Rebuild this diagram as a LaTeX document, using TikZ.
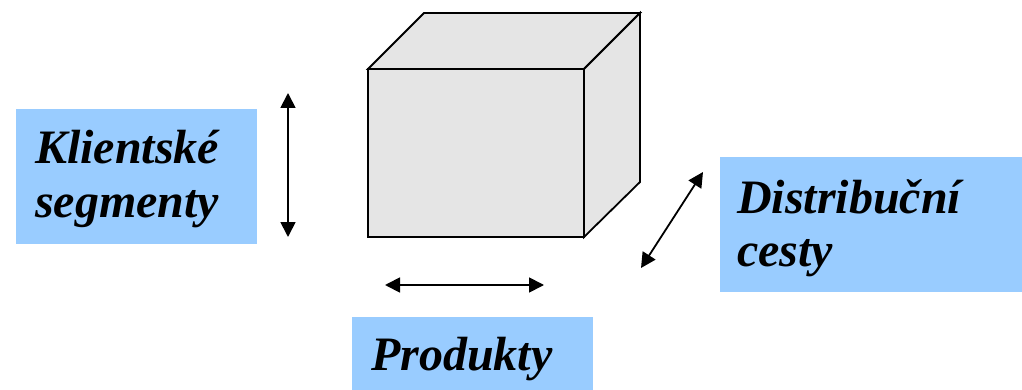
\documentclass[tikz,border=0pt]{standalone}
\usepackage{fontspec}
\setmainfont{Liberation Serif}
\usetikzlibrary{arrows.meta}
\definecolor{boxblue}{HTML}{99CCFF}
\definecolor{cubegray}{HTML}{E5E5E5}
\tikzset{
  bluebox/.style={fill=boxblue, draw=none, inner sep=0pt, anchor=north west},
  lbl/.style={font=\fontsize{48}{54}\selectfont\bfseries\itshape, inner sep=0pt, anchor=base west},
  dimarrow/.style={line width=1.8pt, {Triangle[length=15pt,width=15pt]}-{Triangle[length=15pt,width=15pt]}},
  cubeline/.style={line width=1.8pt, line join=miter, fill=cubegray, draw=black}
}
\begin{document}
\begin{tikzpicture}[x=1pt,y=-1pt]
\useasboundingbox (0,0) rectangle (1022,390);
% boxes
\node[bluebox, minimum width=241pt, minimum height=135pt] (kbox) at (16,109) {};
\node[bluebox, minimum width=302pt, minimum height=135pt] (dbox) at (720,157) {};
\node[bluebox, minimum width=241pt, minimum height=73pt] (pbox) at (352,317) {};
% labels
\node[lbl] (k1) at (35,164) {Klientské};
\node[lbl] (k2) at (35,218) {segmenty};
\node[lbl] (d1) at (737,213) {Distribuční};
\node[lbl] (d2) at (737,266) {cesty};
\node[lbl] (p1) at (371,370) {Produkty};
% cube
\coordinate (ftl) at (368,69);
\coordinate (ftr) at (584,69);
\coordinate (fbr) at (584,237);
\coordinate (fbl) at (368,237);
\coordinate (btl) at (424,13);
\coordinate (btr) at (640,13);
\coordinate (bbr) at (640,182);
\draw[cubeline] (ftl) -- (btl) -- (btr) -- (ftr) -- cycle;
\draw[cubeline] (ftr) -- (btr) -- (bbr) -- (fbr) -- cycle;
\draw[cubeline] (ftl) -- (ftr) -- (fbr) -- (fbl) -- cycle;
% arrows
\coordinate (v1) at (288,93);
\coordinate (v2) at (288,237);
\coordinate (h1) at (385,285);
\coordinate (h2) at (544,285);
\coordinate (g1) at (703,172);
\coordinate (g2) at (641,268);
\draw[dimarrow] (v1) -- (v2);
\draw[dimarrow] (h1) -- (h2);
\draw[dimarrow] (g1) -- (g2);
\end{tikzpicture}
\end{document}
